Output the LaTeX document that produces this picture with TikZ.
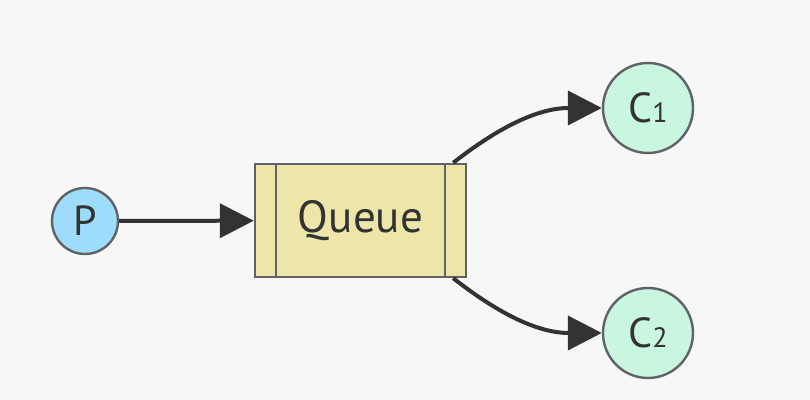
\documentclass[tikz,border=0pt]{standalone}
\usepackage{fontspec}
\setmainfont{PT Sans}
\usepackage{tikz}
\usetikzlibrary{arrows.meta}
\definecolor{bg}{HTML}{F7F7F7}
\definecolor{edge}{HTML}{333333}
\definecolor{rim}{HTML}{5F6366}
\definecolor{prodfill}{HTML}{9EDCFC}
\definecolor{consfill}{HTML}{C8F6DE}
\definecolor{queuefill}{HTML}{EDE6A8}
\tikzset{
  prod/.style={circle, draw=rim, fill=prodfill, line width=1.2pt, minimum size=33pt, inner sep=0pt, font=\fontsize{21}{22}\selectfont},
  cons/.style={circle, draw=rim, fill=consfill, line width=1.2pt, minimum size=45pt, inner sep=0pt, font=\fontsize{21}{22}\selectfont},
  queuebox/.style={rectangle, draw=rim, fill=queuefill, line width=1.2pt, minimum width=105.5pt, minimum height=56.5pt, inner sep=0pt, font=\fontsize{22.5}{24}\selectfont},
  wall/.style={draw=rim, line width=1.2pt},
  flow/.style={draw=edge, line width=2pt, -{Triangle[length=17pt,width=17pt]}},
  every node/.style={text=edge}
}
\newcommand{\idx}[1]{{\fontsize{14}{15}\selectfont #1}}

\begin{document}
\begin{tikzpicture}[x=0.5pt, y=0.5pt]
  \fill[bg] (0,0) rectangle (810,400);
  \useasboundingbox (0,0) rectangle (810,400);

  \node[prod] (P) at (85,179) {P};
  \node[queuebox] (Q) at (360.5,179.5) {Queue};
  \node[cons] (C1) at (648,292) {C\idx{1}};
  \node[cons] (C2) at (648,67) {C\idx{2}};

  % the two walls inside the queue
  \draw[wall] ([xshift=11pt]Q.north west) -- ([xshift=11pt]Q.south west);
  \draw[wall] ([xshift=-11pt]Q.north east) -- ([xshift=-11pt]Q.south east);

  \coordinate (Qup) at ([xshift=-7pt]Q.north east);
  \coordinate (Qdown) at ([xshift=-7pt]Q.south east);

  \draw[flow] (P) -- (Q);
  \draw[flow] (Qup) to[out=38, in=180] (C1.west);
  \draw[flow] (Qdown) to[out=-38, in=180] (C2.west);
\end{tikzpicture}
\end{document}
